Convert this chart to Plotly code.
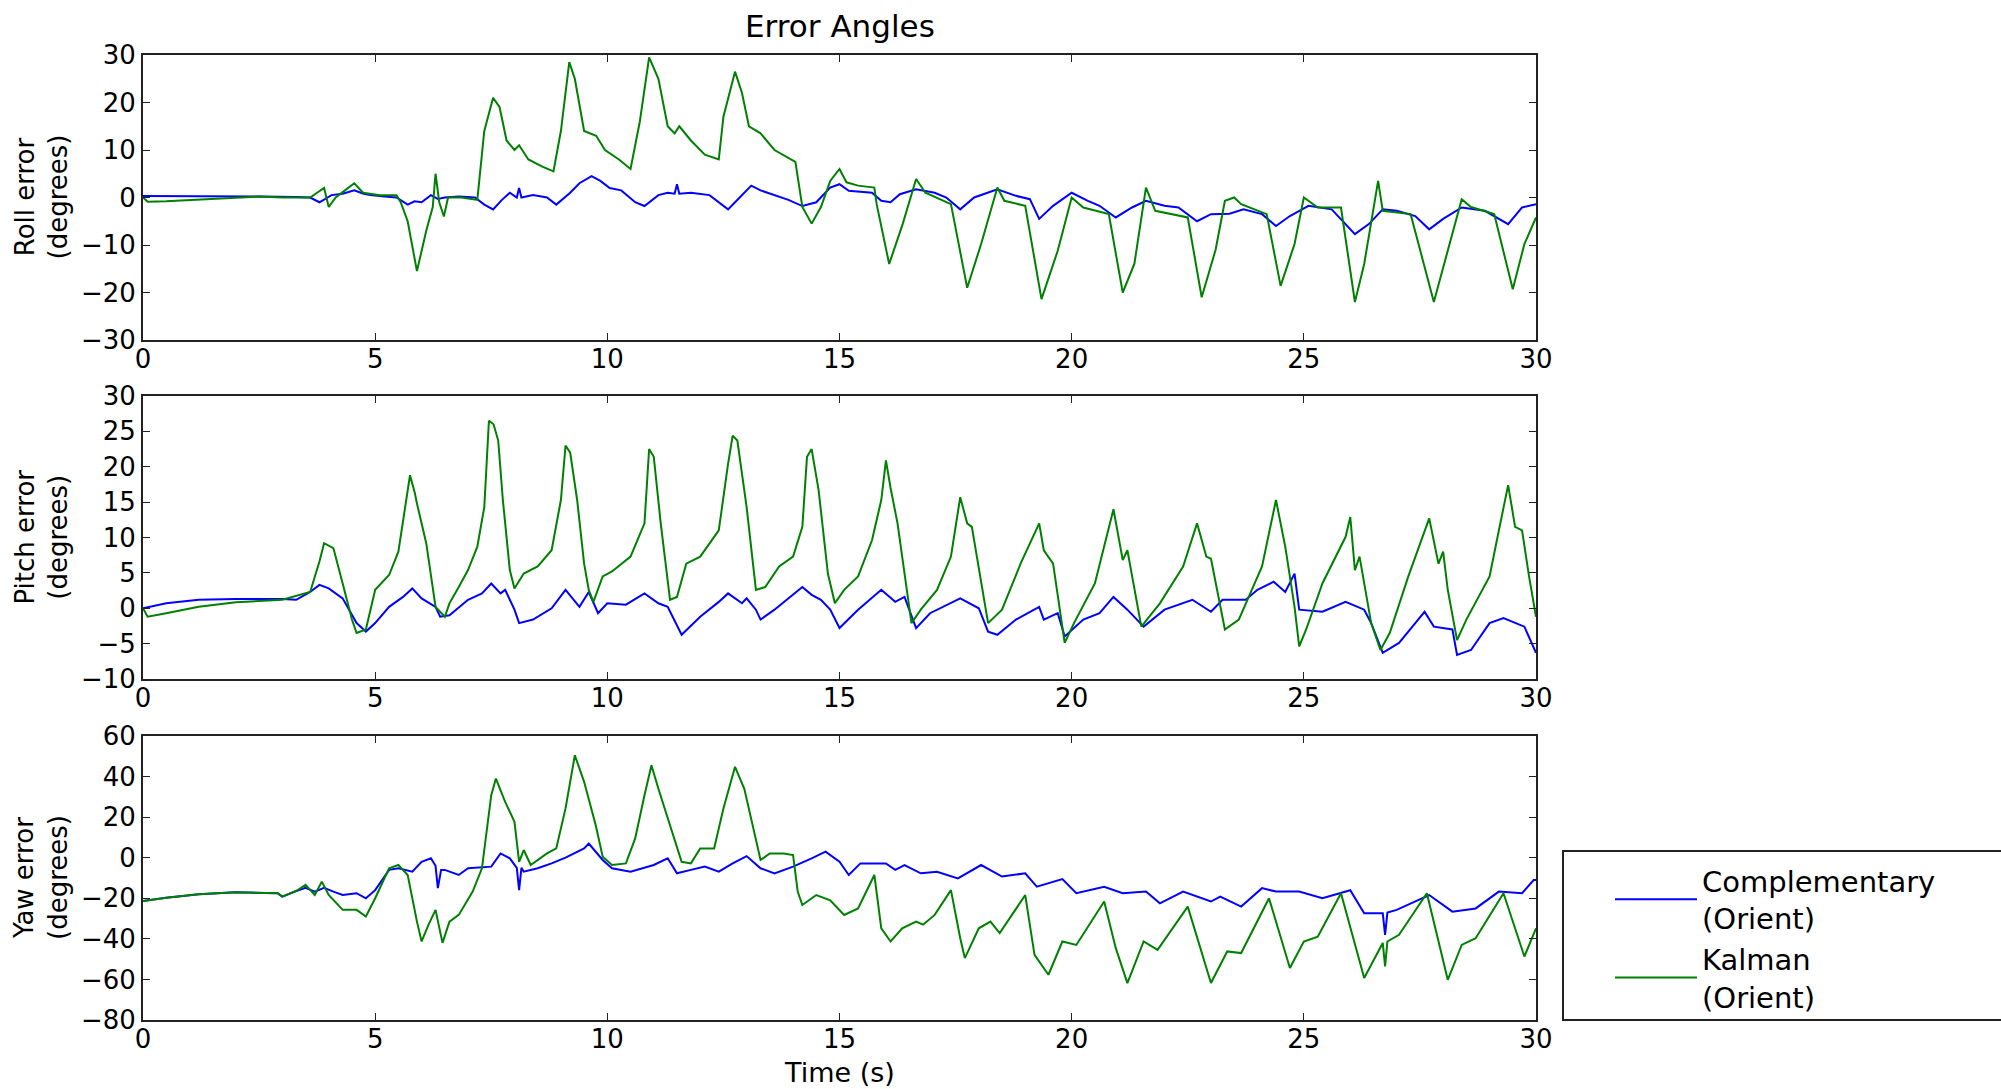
import plotly.graph_objects as go

# ---------------- data ----------------
roll_comp_t = [0, 0.5, 1.5, 2.5, 3.3, 3.6, 3.8, 4.06, 4.3, 4.55, 4.75, 4.9, 5.2, 5.46, 5.7, 5.85, 6.0, 6.2, 6.35, 6.5, 6.8, 7.15, 7.35, 7.54, 7.73, 7.9, 8.05, 8.1, 8.15, 8.4, 8.7, 8.9, 9.2, 9.4, 9.66, 9.85, 10.05, 10.3, 10.6, 10.8, 11.1, 11.3, 11.45, 11.5, 11.55, 11.8, 12.2, 12.4, 12.6, 12.85, 13.1, 13.3, 13.6, 13.9, 14.2, 14.5, 14.8, 15.0, 15.2, 15.7, 15.9, 16.1, 16.3, 16.65, 17.05, 17.3, 17.6, 17.9, 18.4, 18.8, 19.1, 19.3, 19.6, 20.0, 20.35, 20.6, 20.95, 21.3, 21.6, 22.0, 22.3, 22.7, 23.0, 23.4, 23.7, 24.1, 24.4, 24.7, 25.1, 25.6, 26.1, 26.4, 26.7, 27.0, 27.4, 27.7, 28.0, 28.4, 28.9, 29.4, 29.7, 30.0]
roll_comp = [0.3, 0.3, 0.2, 0.2, 0.1, 0, -1, 0.5, 0.8, 1.5, 0.8, 0.5, 0.2, 0, -1.5, -0.8, -1, 0.5, -0.3, 0, 0.2, 0, -1.5, -2.5, -0.5, 1, 0, 2, 0, 0.5, 0, -1.5, 1, 3, 4.5, 3.5, 2, 1.5, -1, -1.8, 0.5, 1, 0.8, 2.8, 0.8, 1, 0.5, -1, -2.5, 0, 2.5, 1.5, 0.5, -0.5, -1.8, -1, 2.1, 2.8, 1.4, 1, -0.7, -1, 0.7, 1.75, 1, 0, -2.5, 0, 1.75, 0.35, -0.35, -4.5, -1.75, 1, -0.7, -1.75, -4.2, -2.1, -0.7, -1.75, -2.1, -5, -3.5, -3.4, -2.5, -3.5, -6, -3.9, -1.75, -2.5, -7.7, -5.6, -2.5, -2.8, -3.9, -6.7, -4.5, -2.1, -2.8, -5.6, -2.1, -1.4]

roll_kal_t = [0, 0.1, 0.5, 1.5, 2.5, 3.0, 3.6, 3.75, 3.9, 4.0, 4.15, 4.35, 4.55, 4.74, 5.1, 5.46, 5.55, 5.7, 5.9, 6.1, 6.24, 6.3, 6.38, 6.48, 6.57, 6.86, 7.2, 7.35, 7.54, 7.68, 7.83, 8.0, 8.1, 8.3, 8.6, 8.84, 9.0, 9.18, 9.3, 9.5, 9.76, 9.95, 10.25, 10.5, 10.7, 10.9, 11.1, 11.3, 11.45, 11.55, 11.8, 12.1, 12.4, 12.5, 12.75, 12.9, 13.05, 13.3, 13.6, 14.05, 14.2, 14.4, 14.6, 14.8, 15.0, 15.15, 15.4, 15.75, 15.8, 16.07, 16.36, 16.65, 16.85, 17.4, 17.75, 18.05, 18.4, 18.55, 19.0, 19.35, 19.7, 20.0, 20.25, 20.8, 21.1, 21.35, 21.6, 21.8, 22.5, 22.8, 23.1, 23.3, 23.5, 23.65, 24.2, 24.5, 24.8, 25.0, 25.3, 25.8, 26.1, 26.3, 26.6, 26.7, 27.3, 27.8, 28.1, 28.4, 28.6, 29.1, 29.5, 29.75, 30.0]
roll_kal = [0, -0.9, -0.8, -0.3, 0.2, 0, 0, 1, 2, -2, 0, 1.5, 3, 1, 0.5, 0.5, -1, -5, -15.5, -7, -2, 5, -1, -4, 0, 0, -0.5, 14, 21, 19, 12, 10, 11, 8, 6.5, 5.5, 14, 28.5, 25, 14, 13, 10, 8, 6, 16, 29.5, 25, 15, 13.5, 15, 12, 9, 8, 17, 26.5, 22, 15, 13.5, 10, 7.5, -2, -5.5, -2, 3.5, 6, 3.2, 2.5, 2.1, -1.4, -14, -5.6, 3.9, 1, -1.4, -19, -9.8, 2.1, -0.7, -1.75, -21.4, -11.2, 0, -2.1, -3.5, -20, -14, 2.1, -2.8, -4.2, -21, -11, -0.7, 0, -1.4, -3.5, -18.6, -9.8, 0, -2.1, -2.1, -22, -14, 3.5, -2.8, -3.5, -22, -11, -0.35, -2, -3.5, -19.3, -9.8, -4.2]

pitch_comp_t = [0, 0.5, 1.2, 2, 3, 3.3, 3.6, 3.8, 4.0, 4.3, 4.6, 4.8, 5.0, 5.3, 5.6, 5.8, 6.0, 6.3, 6.4, 6.6, 7.0, 7.3, 7.5, 7.7, 7.8, 8.0, 8.1, 8.4, 8.8, 9.1, 9.4, 9.6, 9.8, 10.0, 10.4, 10.8, 11.1, 11.3, 11.6, 12.0, 12.4, 12.6, 12.9, 13.0, 13.2, 13.3, 13.6, 13.9, 14.2, 14.4, 14.6, 14.8, 15.0, 15.4, 15.9, 16.2, 16.4, 16.65, 16.95, 17.6, 18.0, 18.2, 18.4, 18.8, 19.3, 19.4, 19.7, 19.85, 20.25, 20.6, 20.9, 21.2, 21.55, 22.0, 22.6, 23.0, 23.25, 23.75, 24.0, 24.35, 24.6, 24.8, 24.9, 25.4, 25.9, 26.3, 26.45, 26.7, 27.05, 27.4, 27.6, 27.8, 28.2, 28.3, 28.6, 29.0, 29.3, 29.75, 30.0]
pitch_comp = [0, 0.7, 1.2, 1.3, 1.3, 1.2, 2.3, 3.3, 2.8, 1.4, -2.1, -3.3, -2.1, 0.2, 1.6, 2.8, 1.4, 0.2, -1.2, -1, 1.2, 2.1, 3.5, 2.1, 2.6, -0.2, -2.1, -1.6, 0, 2.6, 0.2, 2.3, -0.7, 0.7, 0.5, 2.1, 0.7, 0.2, -3.75, -1.2, 0.9, 2.1, 0.7, 1.4, -0.2, -1.6, -0.2, 1.4, 3, 1.9, 1.2, -0.2, -2.8, -0.2, 2.6, 0.9, 1.6, -2.8, -0.7, 1.4, 0, -3.3, -3.75, -1.6, 0.2, -1.6, -0.7, -4, -1.6, -0.7, 1.6, -0.2, -2.6, -0.2, 1.2, -0.5, 1.2, 1.2, 2.6, 3.75, 2.3, 4.9, -0.2, -0.5, 0.9, -0.2, -2.1, -6.3, -4.9, -2.1, -0.5, -2.6, -3, -6.6, -5.9, -2.1, -1.4, -2.6, -6.3]

pitch_kal_t = [0, 0.1, 0.5, 1.2, 2, 3, 3.6, 3.8, 3.9, 4.1, 4.3, 4.5, 4.6, 4.8, 5.0, 5.3, 5.5, 5.7, 5.75, 5.85, 5.9, 6.1, 6.3, 6.5, 6.6, 6.8, 7.0, 7.2, 7.35, 7.45, 7.55, 7.65, 7.75, 7.9, 8.0, 8.2, 8.5, 8.8, 9.0, 9.1, 9.2, 9.35, 9.5, 9.6, 9.7, 9.9, 10.1, 10.5, 10.8, 10.9, 11.0, 11.15, 11.35, 11.5, 11.7, 12.0, 12.4, 12.6, 12.7, 12.8, 13.0, 13.2, 13.4, 13.7, 14.0, 14.2, 14.3, 14.4, 14.55, 14.75, 14.9, 15.1, 15.4, 15.7, 15.9, 16.0, 16.1, 16.25, 16.5, 16.55, 16.75, 17.1, 17.4, 17.6, 17.75, 17.85, 18.2, 18.5, 18.9, 19.3, 19.4, 19.6, 19.85, 20.05, 20.5, 20.9, 21.1, 21.2, 21.5, 21.9, 22.4, 22.7, 22.9, 23.0, 23.3, 23.6, 24.1, 24.4, 24.6, 24.8, 24.9, 25.05, 25.4, 25.9, 26.0, 26.1, 26.2, 26.45, 26.65, 26.85, 27.25, 27.7, 27.9, 28.0, 28.1, 28.3, 28.5, 29.0, 29.2, 29.4, 29.55, 29.7, 29.85, 30.0]
pitch_kal = [0, -1.2, -0.7, 0.2, 0.85, 1.2, 2.3, 6.6, 9.2, 8.5, 3.5, -1.6, -3.5, -3, 2.6, 4.7, 8, 16.2, 18.8, 16.4, 14.8, 9.2, 0.2, -1.2, 0.7, 3, 5.4, 8.7, 14.3, 26.5, 26, 23.7, 15.3, 5.4, 2.8, 4.9, 5.9, 8.2, 15.3, 23, 22, 15.3, 6.3, 2.6, 0.9, 4.5, 5.2, 7.3, 12, 22.5, 21.4, 12, 1.2, 1.6, 6.3, 7.3, 11, 20.4, 24.4, 23.7, 14.3, 2.6, 3, 5.9, 7.3, 11.5, 21.4, 22.5, 16.7, 4.9, 0.7, 2.6, 4.5, 9.6, 15.3, 20.9, 17, 12, 0.7, -2.1, -0.2, 2.6, 7.3, 15.7, 12, 11.5, -2.1, -0.2, 6.3, 12, 8.2, 6.3, -4.9, -2.1, 3.5, 14, 6.8, 8.2, -2.6, 0.7, 5.9, 12, 7.3, 7, -3, -1.6, 5.9, 15.3, 8.7, 0.2, -5.4, -3, 3.5, 10.1, 12.9, 5.4, 7.3, -2.1, -5.9, -3.5, 4.5, 12.7, 6.3, 8, 2.6, -4.5, -1.6, 4.5, 11, 17.4, 11.5, 11, 4.5, -1.2]

yaw_comp_t = [0, 0.5, 1.2, 2, 2.9, 3.0, 3.3, 3.5, 3.7, 3.9, 4.1, 4.3, 4.6, 4.8, 5.0, 5.3, 5.5, 5.8, 6.0, 6.2, 6.3, 6.35, 6.42, 6.5, 6.8, 7.0, 7.5, 7.7, 7.9, 8.05, 8.1, 8.15, 8.2, 8.5, 8.8, 9.1, 9.5, 9.6, 9.9, 10.1, 10.5, 11.0, 11.3, 11.5, 11.8, 12.1, 12.4, 12.7, 13.0, 13.3, 13.6, 14.0, 14.4, 14.7, 15.0, 15.2, 15.45, 16.0, 16.2, 16.4, 16.75, 17.1, 17.55, 18.05, 18.5, 19.0, 19.25, 19.8, 20.1, 20.7, 21.1, 21.6, 21.9, 22.4, 23.0, 23.2, 23.65, 24.1, 24.4, 24.9, 25.4, 26.0, 26.3, 26.7, 26.75, 26.8, 27.0, 27.7, 28.2, 28.7, 29.2, 29.7, 29.95, 30.0]
yaw_comp = [-21.3, -19.7, -18, -17, -17.5, -19.2, -16.4, -14.8, -16.7, -14.8, -16.7, -18.4, -17.5, -20, -16, -6, -5.2, -6.9, -2, -0.3, -4, -15, -6, -6, -8.5, -5.2, -4.4, 2.1, -0.3, -5, -16, -5, -6.9, -5.2, -2.8, 0, 4.6, 7, -1.1, -5.2, -6.9, -3.6, -0.3, -7.7, -6, -4.4, -6.9, -2.8, 0.8, -5.2, -7.7, -4.4, -0.3, 3, -2, -8.5, -2.8, -2.8, -6, -3.6, -7.7, -6.9, -10.2, -3.6, -9.3, -7.7, -14.3, -10.5, -17.5, -14.3, -17.5, -16.7, -22.5, -16.7, -21.6, -19.2, -24.1, -15, -16.7, -16.7, -20, -16, -27.4, -27.4, -38, -27, -25.7, -18.4, -26.6, -25, -16.7, -17.5, -11, -11]

yaw_kal_t = [0, 0.5, 1.2, 2, 2.9, 3.0, 3.3, 3.5, 3.7, 3.85, 4.0, 4.3, 4.6, 4.8, 5.0, 5.3, 5.5, 5.7, 5.9, 6.0, 6.15, 6.3, 6.45, 6.6, 6.8, 7.1, 7.3, 7.5, 7.6, 7.8, 8.0, 8.1, 8.2, 8.35, 8.7, 8.9, 9.1, 9.3, 9.5, 9.75, 9.9, 10.1, 10.4, 10.6, 10.8, 10.95, 11.1, 11.35, 11.6, 11.8, 12.0, 12.3, 12.5, 12.75, 12.95, 13.3, 13.5, 13.8, 14.0, 14.1, 14.2, 14.5, 14.8, 15.1, 15.4, 15.75, 15.9, 16.1, 16.35, 16.65, 16.8, 17.05, 17.4, 17.6, 17.7, 18.0, 18.25, 18.45, 19.0, 19.2, 19.5, 19.8, 20.1, 20.7, 20.95, 21.2, 21.55, 21.85, 22.5, 23.0, 23.35, 23.65, 24.25, 24.7, 25.0, 25.3, 25.8, 26.3, 26.7, 26.75, 26.8, 27.05, 27.65, 28.1, 28.4, 28.7, 29.3, 29.75, 30.0]
yaw_kal = [-21.3, -19.7, -18, -17, -17.5, -19.2, -16.4, -13.4, -18.4, -11.8, -18.4, -25.7, -25.7, -29, -20, -5.2, -3.6, -8.5, -31.5, -41.3, -33, -25.7, -42, -31.5, -28.2, -16.7, -5.2, 30.8, 39, 27.5, 17.7, -2, 3.8, -3.6, 2.1, 4.6, 24.3, 50.5, 37.4, 16, 0.5, -3.6, -2.8, 9.5, 30.8, 45.6, 34, 16, -2, -2.8, 4.6, 4.6, 24.3, 44.8, 34, -1.1, 2.1, 2.1, 1.3, -16.7, -23.3, -18.4, -21, -28.2, -25, -8.5, -34.8, -41.3, -34.8, -31.5, -33, -28.2, -16, -39.7, -49.5, -34.8, -31.5, -37.2, -18.4, -47.9, -57.7, -41.3, -43, -21.6, -44.6, -61.8, -41.3, -45.4, -24.1, -61.8, -46.2, -47, -20, -54.4, -41.3, -38.9, -17.5, -59.3, -42, -53.6, -41.3, -38, -17.5, -60.2, -43, -39.7, -17.5, -48.7, -34.8]

x_ticks = [0, 5, 10, 15, 20, 25, 30]
roll_ticks = [-30, -20, -10, 0, 10, 20, 30]
pitch_ticks = [-10, -5, 0, 5, 10, 15, 20, 25, 30]
yaw_ticks = [-80, -60, -40, -20, 0, 20, 40, 60]

series_names = ["Complementary<br>(Orient)", "Kalman<br>(Orient)"]
panel_titles = ["Roll error<br>(degrees)", "Pitch error<br>(degrees)", "Yaw error<br>(degrees)"]

# ---------------- figure ----------------
W, H = 2001, 1089
BLUE, GREEN = "#0000ff", "#008000"
FONT = "DejaVu Sans"

fig = go.Figure()

panels = [
    (roll_comp_t, roll_comp, roll_kal_t, roll_kal),
    (pitch_comp_t, pitch_comp, pitch_kal_t, pitch_kal),
    (yaw_comp_t, yaw_comp, yaw_kal_t, yaw_kal),
]
for i, (tc, vc, tk, vk) in enumerate(panels):
    ax = "" if i == 0 else str(i + 1)
    fig.add_trace(go.Scatter(x=tc, y=vc, mode="lines", line=dict(color=BLUE, width=2),
                             name=series_names[0], showlegend=(i == 2),
                             xaxis="x" + ax, yaxis="y" + ax))
    fig.add_trace(go.Scatter(x=tk, y=vk, mode="lines", line=dict(color=GREEN, width=2),
                             name=series_names[1], showlegend=(i == 2),
                             xaxis="x" + ax, yaxis="y" + ax))

x_dom = [143 / W, 1536 / W]
panel_px = [(55, 340), (396, 679), (736, 1020)]
y_ranges = [[-30, 30], [-10, 30], [-80, 60]]
y_tickvals = [roll_ticks, pitch_ticks, yaw_ticks]

axis_common = dict(showline=True, linecolor="#222", linewidth=2, mirror="allticks",
                   ticks="inside", ticklen=7, tickwidth=1, tickcolor="#222",
                   showgrid=False, zeroline=False,
                   tickfont=dict(family=FONT, size=26, color="black"))

layout = dict(width=W, height=H, margin=dict(l=0, r=0, t=0, b=0, autoexpand=False),
              paper_bgcolor="white", plot_bgcolor="white",
              font=dict(family=FONT, color="black"))

for i in range(3):
    ax = "" if i == 0 else str(i + 1)
    top, bot = panel_px[i]
    layout["xaxis" + ax] = dict(domain=x_dom, range=[0, 30], tickvals=x_ticks,
                                anchor="y" + ax, ticklabelstandoff=-5, **axis_common)
    layout["yaxis" + ax] = dict(domain=[1 - bot / H, 1 - top / H], range=y_ranges[i],
                                tickvals=y_tickvals[i], anchor="x" + ax, **axis_common)

fig.update_layout(**layout)

annotations = []
for i in range(3):
    top, bot = panel_px[i]
    annotations.append(dict(text=panel_titles[i], x=41 / W, y=1 - (top + bot) / 2 / H,
                             xref="paper", yref="paper", xanchor="center", yanchor="middle",
                             textangle=-90, showarrow=False,
                             font=dict(family=FONT, size=26, color="black")))
annotations.append(dict(text="Time (s)", x=(143 + 1536) / 2 / W, y=1 - 1072 / H,
                        xref="paper", yref="paper", xanchor="center", yanchor="middle",
                        showarrow=False, font=dict(family=FONT, size=27, color="black")))
annotations.append(dict(text="Error Angles", x=(143 + 1536) / 2 / W, y=1 - 26 / H,
                        xref="paper", yref="paper", xanchor="center", yanchor="middle",
                        showarrow=False, font=dict(family=FONT, size=31, color="black")))
fig.update_layout(annotations=annotations)

# legend frame (extends past the right edge, as in the reference)
fig.add_shape(type="rect", xref="paper", yref="paper",
              x0=1563 / W, x1=2030 / W, y0=1 - 1020 / H, y1=1 - 851 / H,
              line=dict(color="#222", width=2), fillcolor="rgba(0,0,0,0)", layer="above")

fig.update_layout(legend=dict(x=1610 / W, y=1 - 855 / H, xanchor="left", yanchor="top",
                              bgcolor="rgba(0,0,0,0)", borderwidth=0,
                              font=dict(family=FONT, size=29, color="black"),
                              itemwidth=82, traceorder="normal"))

fig.write_html("out.html", config={"displayModeBar": False},
               post_script="document.body.style.margin='0';document.body.style.overflow='hidden';")
